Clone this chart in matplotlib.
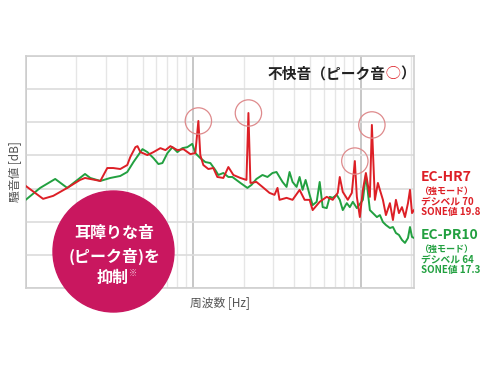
import numpy as np
import matplotlib
matplotlib.use("Agg")
import matplotlib.pyplot as plt
from matplotlib.patches import Ellipse
from matplotlib.ticker import LogLocator, NullFormatter

plt.rcParams['font.family'] = ['Noto Sans CJK JP', 'DejaVu Sans']

# EC-HR7 (red) spectrum
red_hz = [100, 127, 146, 177, 211, 226, 279, 307, 333, 367, 404, 421, 452, 465,
          484, 533, 579, 637, 683, 731, 805, 874, 962, 1030, 1074, 1103, 1150,
          1232, 1319, 1394, 1514, 1622, 1738, 1914, 2080, 2137, 2197, 2386,
          2592, 2855, 3059, 3188, 3277, 3610, 3921, 4319, 4627, 4958, 5168,
          5693, 6271, 6812, 7299, 7504, 7821, 8380, 8857, 9231, 9490, 9891,
          10310, 10745, 11350, 11668, 12160, 12674, 13030, 13580, 14155,
          14950, 15585, 16240, 16930, 17645, 18390, 19165, 19700, 20255, 20820]
red_db = [30.8, 26.9, 27.8, 30.2, 32.6, 33.2, 32.3, 36.2, 36.2, 35.9, 37.1, 39.5,
          42.5, 42.8, 41.0, 40.1, 41.0, 42.2, 41.6, 42.8, 41.6, 41.9, 40.4, 40.7,
          50.4, 40.1, 37.1, 35.9, 36.2, 33.5, 33.2, 36.5, 34.1, 33.2, 32.6, 52.8,
          31.7, 32.0, 30.5, 28.7, 28.1, 30.2, 26.6, 27.2, 26.6, 29.6, 26.6, 26.6,
          23.5, 26.0, 27.5, 26.6, 28.7, 33.5, 29.0, 26.6, 28.7, 38.3, 27.5, 21.4,
          29.6, 34.7, 27.5, 49.2, 26.6, 31.7, 29.6, 26.6, 22.0, 25.6, 20.5, 26.6,
          22.6, 24.4, 21.4, 25.6, 29.6, 22.6, 23.5]

# EC-PR10 (green) spectrum
green_hz = [100, 122, 150, 177, 226, 243, 279, 320, 367, 404, 440, 498, 533,
            579, 620, 655, 702, 752, 805, 862, 923, 988, 1030, 1103, 1182, 1266,
            1356, 1413, 1514, 1622, 1714, 1914, 2108, 2228, 2386, 2592, 2777,
            2975, 3144, 3277, 3416, 3610, 3762, 3921, 4144, 4319, 4501, 4691,
            4958, 5168, 5462, 5693, 5934, 6271, 6536, 6812, 7199, 7504, 7821,
            8265, 8615, 8980, 9490, 10310, 10745, 11350, 11830, 12500, 13030,
            13580, 14155, 14950, 15585, 16240, 16930, 17645, 18390, 19165,
            19700, 20255, 20820]
green_db = [26.6, 30.2, 32.9, 30.2, 34.4, 33.2, 32.3, 33.2, 33.8, 35.0, 38.0,
            41.9, 41.0, 39.2, 37.4, 37.7, 40.7, 42.5, 41.0, 42.2, 42.5, 43.5,
            40.7, 39.2, 38.0, 37.7, 35.6, 34.1, 34.7, 33.5, 33.5, 31.7, 30.2,
            31.1, 32.9, 34.1, 33.5, 34.7, 35.0, 33.5, 32.0, 30.5, 35.0, 32.0,
            30.5, 33.5, 29.6, 32.6, 28.1, 25.0, 26.0, 32.0, 24.4, 24.1, 27.5,
            27.2, 28.1, 26.6, 23.5, 25.6, 24.4, 26.0, 24.1, 26.6, 34.1, 23.5,
            22.6, 21.4, 22.0, 19.9, 19.0, 18.1, 18.4, 16.6, 16.0, 14.5, 13.6,
            15.1, 18.4, 15.4, 15.1]

peak_hz = [1074, 2137, 9231, 11668]

red_lines = ['EC-HR7', '（強モード）', 'デシベル 70', 'SONE値 19.8']
green_lines = ['EC-PR10', '（強モード）', 'デシベル 64', 'SONE値 17.3']
badge_lines = ['耳障りな音', '(ピーク音)を']

RED = '#dd1f26'
GREEN = '#22a040'
MAGENTA = '#c9175f'

fig = plt.figure(figsize=(4.9, 3.68), dpi=100)
ax = fig.add_axes([25.7 / 490, 1 - 288 / 368, 388.3 / 490, 232 / 368])

ax.set_xscale('log')
ax.set_xlim(100, 20820)
ax.set_ylim(0, 70)

# grid
ax.xaxis.set_major_locator(LogLocator(base=10, numticks=10))
ax.xaxis.set_minor_locator(LogLocator(base=10, subs=np.arange(2, 10), numticks=20))
ax.xaxis.set_minor_formatter(NullFormatter())
ax.set_xticklabels([])
ax.set_yticks(np.arange(0, 71, 10))
ax.set_yticklabels([])
ax.tick_params(which='both', length=0, pad=0)
ax.grid(True, which='major', axis='x', color='#bdbdbd', lw=1.2)
ax.grid(True, which='minor', axis='x', color='#e6e6e6', lw=1.0)
ax.grid(True, which='major', axis='y', color='#dcdcdc', lw=1.2)
ax.set_axisbelow(True)
for s in ax.spines.values():
    s.set_color('#cfcfcf')
    s.set_linewidth(1.2)

ax.plot(green_hz, green_db, color=GREEN, lw=1.4, zorder=3)
ax.plot(red_hz, red_db, color=RED, lw=1.4, zorder=4)

peak_db = [red_db[red_hz.index(f)] for f in peak_hz]
ax.scatter(peak_hz, peak_db, s=360, facecolors='none', edgecolors='#de8a8c',
           linewidths=0.9, zorder=5)

ax.set_ylabel('騒音値 [dB]', fontsize=8.5, color='#555555', labelpad=3)
ax.set_xlabel('周波数 [Hz]', fontsize=8.5, color='#555555', labelpad=6)

t1 = ax.text(0.623, 0.925, '不快音（ピーク音', transform=ax.transAxes,
             fontsize=10.6, fontweight='bold', color='#222222', va='center')
t2 = ax.annotate('◯', xy=(1, 0), xycoords=t1, va='bottom',
                 fontsize=10.6, color=RED)
ax.annotate('）', xy=(1, 0), xycoords=t2, va='bottom',
            fontsize=10.6, fontweight='bold', color='#222222')

# right hand labels
def side_block(lines, color, y0):
    fig.text(421 / 490, 1 - y0 / 368, lines[0], fontsize=10, fontweight='bold',
             color=color, va='center', ha='left')
    fig.text(446 / 490, 1 - (y0 + 14) / 368, lines[1], fontsize=6.5,
             fontweight='bold', color=color, va='center', ha='center')
    fig.text(421 / 490, 1 - (y0 + 24) / 368, lines[2], fontsize=7,
             fontweight='bold', color=color, va='center', ha='left')
    fig.text(421 / 490, 1 - (y0 + 34.5) / 368, lines[3], fontsize=7,
             fontweight='bold', color=color, va='center', ha='left')

side_block(red_lines, RED, 177)
side_block(green_lines, GREEN, 235)

# magenta badge
badge = Ellipse((113.5 / 490, 1 - 251.5 / 368), 121 / 490, 121 / 368,
                transform=fig.transFigure, color=MAGENTA, zorder=2)
fig.patches.append(badge)
fig.text(114.5 / 490, 1 - 233 / 368, badge_lines[0], fontsize=11.5,
         fontweight='bold', color='white', ha='center', va='center', zorder=3)
fig.text(114.5 / 490, 1 - 256 / 368, badge_lines[1], fontsize=11.5,
         fontweight='bold', color='white', ha='center', va='center', zorder=3)
fig.text(113 / 490, 1 - 278 / 368, '抑制', fontsize=11.5,
         fontweight='bold', color='white', ha='center', va='center', zorder=3)
fig.text(129 / 490, 1 - 273 / 368, '※', fontsize=6,
         color='#f3c6d8', ha='left', va='center', zorder=3)

fig.savefig('out.png', dpi=100, facecolor='white')
